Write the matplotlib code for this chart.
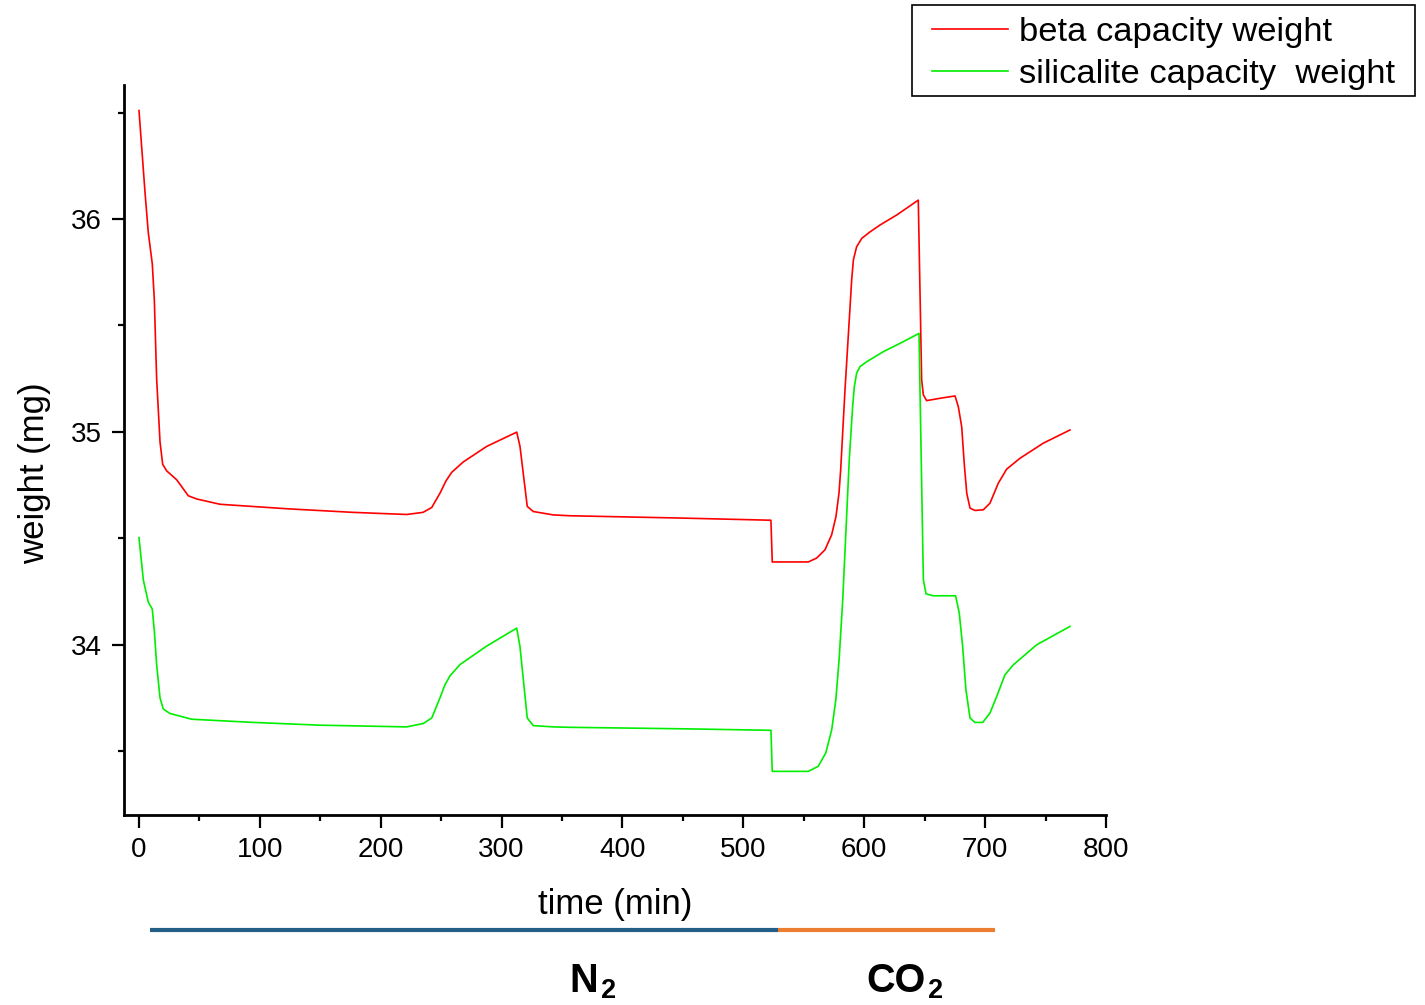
import matplotlib
matplotlib.use("Agg")
import matplotlib.pyplot as plt
from matplotlib.lines import Line2D
from matplotlib.patches import Rectangle
from matplotlib.ticker import MultipleLocator

plt.rcParams['font.family'] = ['Liberation Sans', 'DejaVu Sans']

# ---- data ----
beta_t = [0, 5.0, 7.7, 11.0, 12.7, 14.6, 17.4, 19.6, 22.9, 31.2, 40.8, 47.7, 67, 122.2,
          177, 221.5, 235, 242.2, 249, 254, 258.7, 268.3, 287.7, 312.5, 315.2, 321.2, 326.2, 342.8,
          356.6, 450, 522.8, 523.9, 553.7, 560.6, 567.5, 573, 576.6, 579.1, 580.5, 584.1,
          587.6, 589.6, 591, 593.7, 597.9, 604.8, 613, 626.8, 644.7, 647.5, 648.9, 651.6,
          662.7, 675.1, 677.8, 680.6, 682.7, 684.8, 687.5, 691.6, 698.5, 704, 710.9,
          717.8, 728.8, 748.1, 770.2]
beta_w = [36.51, 36.124, 35.936, 35.79, 35.62, 35.25, 34.953, 34.848, 34.817, 34.775, 34.70,
          34.685, 34.66, 34.639, 34.622, 34.612, 34.622, 34.645, 34.712, 34.77, 34.81, 34.859, 34.932,
          34.999, 34.932, 34.65, 34.626, 34.61, 34.606, 34.595, 34.585, 34.389, 34.389,
          34.407, 34.446, 34.516, 34.602, 34.712, 34.822, 35.2, 35.526, 35.714, 35.808,
          35.87, 35.909, 35.94, 35.972, 36.019, 36.089, 35.244, 35.174, 35.147, 35.158,
          35.169, 35.119, 35.025, 34.853, 34.712, 34.642, 34.631, 34.634, 34.665, 34.759,
          34.825, 34.876, 34.947, 35.009]

sil_t = [0, 3.6, 7.7, 11.0, 12.7, 14.6, 17.4, 20.1, 25.6, 43.6, 94.6, 149.7, 221.5, 235.2,
         242.2, 249, 253, 257.3, 265.6, 287.7, 312.5, 315.2, 321.2, 326.2, 342.8, 356.6, 450,
         522.8, 523.9, 553.7, 562, 568.2, 573.1, 576.5, 579.2, 582.2, 587.6, 590.4, 591.8,
         593.7, 596.5, 602.1, 615.8, 632.3, 645.3, 648.9, 651.1, 657.1, 675.6, 678.6,
         681.4, 684.1, 687.5, 691.6, 698, 704, 709.6, 716.4, 723.4, 742.7, 770.2]
sil_w = [34.503, 34.304, 34.2, 34.168, 34.064, 33.907, 33.75, 33.698, 33.677, 33.65, 33.635,
         33.622, 33.614, 33.63, 33.656, 33.75, 33.81, 33.854, 33.907, 33.994, 34.078, 33.991,
         33.656, 33.62, 33.614, 33.612, 33.605, 33.598, 33.405, 33.405, 33.429, 33.492,
         33.601, 33.742, 33.93, 34.211, 34.869, 35.119, 35.213, 35.276, 35.307, 35.33,
         35.377, 35.424, 35.463, 34.305, 34.239, 34.23, 34.23, 34.149, 33.992, 33.789,
         33.656, 33.635, 33.635, 33.679, 33.757, 33.859, 33.906, 34.0, 34.086]

series_labels = ["beta capacity weight", "silicalite capacity  weight"]
series_colors = ["#ff0000", "#00ee00"]
x_ticks = [0, 100, 200, 300, 400, 500, 600, 700, 800]
y_ticks = [34, 35, 36]
gas_names = ["N", "CO"]
gas_subs = ["2", "2"]

# ---- figure ----
W, H = 1425, 1005
fig = plt.figure(figsize=(W / 100, H / 100), dpi=100)
ax = fig.add_axes([124/W, 1-815/H, (1106-124)/W, (815-85)/H])

l1, = ax.plot(beta_t, beta_w, color=series_colors[0], lw=1.2)
l2, = ax.plot(sil_t, sil_w, color=series_colors[1], lw=1.2)

ax.set_xlim(-12.4, 800)
ax.set_ylim(33.2, 36.63)
ax.set_xticks(x_ticks)
ax.set_yticks(y_ticks)
ax.xaxis.set_minor_locator(MultipleLocator(50))
ax.yaxis.set_minor_locator(MultipleLocator(0.5))
for s in ['top', 'right']:
    ax.spines[s].set_visible(False)
for s in ['left', 'bottom']:
    ax.spines[s].set_linewidth(2)
ax.tick_params(which='major', direction='out', length=9, width=1.6, labelsize=20, pad=7)
ax.tick_params(which='minor', direction='out', length=4.5, width=1.6)

ax.set_xlabel("time (min)", fontsize=25, va='center')
ax.xaxis.set_label_coords(0.5, -0.123)
ax.set_ylabel("weight (mg)", fontsize=25, va='center')
ax.yaxis.set_label_coords(-0.0906, 0.468)

# legend (frame drawn as separate box to match proportions)
leg = fig.legend([l1, l2], series_labels, loc='upper left',
                 bbox_to_anchor=(932/W, 1-17/H), fontsize=24.8,
                 frameon=False, handlelength=2.2, handletextpad=0.33,
                 labelspacing=0.32, borderpad=0, borderaxespad=0)
fig.add_artist(Rectangle((912/W, 1-96/H), 503/W, 91/H, transform=fig.transFigure,
                         fill=False, edgecolor='black', lw=1.2))

# gas bars below axis
fig.add_artist(Line2D([150/W, 778/W], [1-930/H, 1-930/H], color='#235f86', lw=3, solid_capstyle='butt'))
fig.add_artist(Line2D([778/W, 995/W], [1-930/H, 1-930/H], color='#ed7d31', lw=3, solid_capstyle='butt'))
fig.text(569/W, 1-992/H, gas_names[0], fontsize=28.5, fontweight='bold', ha='left', va='baseline')
fig.text(601/W, 1-1004/H, gas_subs[0], fontsize=19.5, fontweight='bold', ha='left', va='bottom')
fig.text(866/W, 1-992/H, gas_names[1], fontsize=28.5, fontweight='bold', ha='left', va='baseline')
fig.text(928/W, 1-1004/H, gas_subs[1], fontsize=19.5, fontweight='bold', ha='left', va='bottom')

fig.savefig("out.png", dpi=100)
